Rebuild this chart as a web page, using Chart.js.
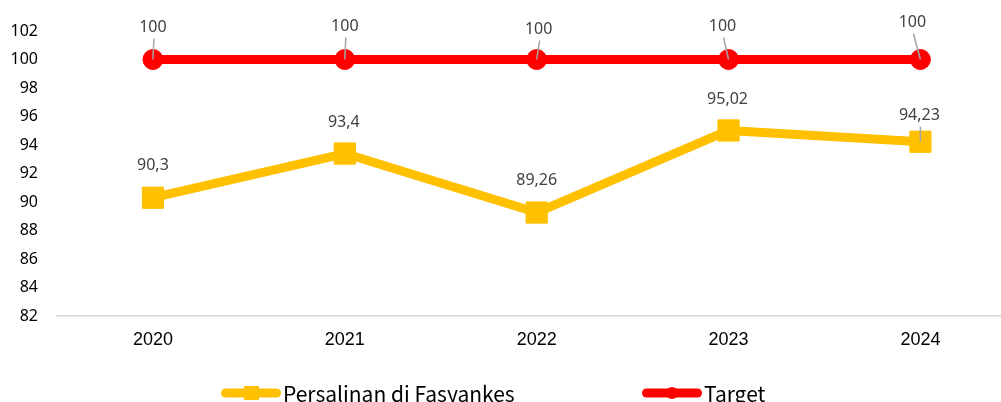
<!DOCTYPE html>
<html>
<head>
<meta charset="utf-8">
<script src="https://cdn.jsdelivr.net/npm/chart.js@4.4.1/dist/chart.umd.min.js"></script>
<style>
  html, body { margin: 0; padding: 0; background: #fff; overflow: hidden; }
  #chart { display: block; width: 1001px; height: 402px; }
</style>
</head>
<body>
<canvas id="chart" width="1001" height="402"></canvas>
<script>
const years = [2020, 2021, 2022, 2023, 2024];
const persalinan = [90.3, 93.4, 89.26, 95.02, 94.23];
const target = [100, 100, 100, 100, 100];
const yMin = 82;
const yMax = 102;
const yStep = 2;
// the picture is cut off on the right, so the x range stops short of a full half band
const xMin = 2019.5;
const xMax = 2024.42;

// label offsets from the point (dx, dy) and whether a leader line is drawn
const persalinanLabelShift = [[0, -32], [-1, -31], [0, -32], [-1, -31], [-1, -26]];
const persalinanLeader = [false, false, false, false, true];
const targetLabelShift = [[0, -32], [0, -33], [2, -30], [-6, -33], [-8, -37]];
const targetLeader = [true, true, true, true, true];

function fmt(v) {
	return String(v).replace(".", ",");
}

function toPoints(values) {
	return values.map((v, i) => ({ x: years[i], y: v }));
}

const valueLabels = {
	id: "valueLabels",
	afterDatasetsDraw(chart) {
		const ctx = chart.ctx;
		chart.data.datasets.forEach((ds, i) => {
			const meta = chart.getDatasetMeta(i);
			meta.data.forEach((pt, j) => {
				const [dx, dy] = ds.labelShift[j];
				const lx = pt.x + dx;
				const ly = pt.y + dy;
				ctx.save();
				if (ds.leader[j]) {
					ctx.strokeStyle = "#a6a6a6";
					ctx.lineWidth = 1.5;
					ctx.beginPath();
					ctx.moveTo(lx + 1, ly + 11);
					ctx.lineTo(pt.x, pt.y);
					ctx.stroke();
				}
				ctx.fillStyle = "#404040";
				ctx.font = '16px "Noto Sans"';
				ctx.textAlign = "center";
				ctx.textBaseline = "middle";
				ctx.fillText(fmt(ds.data[j].y), lx, ly);
				ctx.restore();
			});
		});
	},
};

// legend drawn under the axis, line + marker like the office-style legend
const bottomLegend = {
	id: "bottomLegend",
	afterDraw(chart) {
		const ctx = chart.ctx;
		const y = 393;
		const items = [
			{ x: 221, ds: chart.data.datasets[0] },
			{ x: 642, ds: chart.data.datasets[1] },
		];
		items.forEach((it) => {
			ctx.save();
			ctx.strokeStyle = it.ds.borderColor;
			ctx.fillStyle = it.ds.borderColor;
			ctx.lineWidth = 9;
			ctx.lineCap = "round";
			ctx.beginPath();
			ctx.moveTo(it.x + 4.5, y);
			ctx.lineTo(it.x + 55.5, y);
			ctx.stroke();
			const cx = it.x + 30;
			if (it.ds.pointStyle === "rect") {
				ctx.fillRect(cx - 7, y - 7, 15, 14);
			} else {
				ctx.beginPath();
				ctx.arc(cx, y, 6, 0, Math.PI * 2);
				ctx.fill();
			}
			ctx.fillStyle = "#000";
			ctx.font = '21px "Noto Sans CJK KR"';
			ctx.textAlign = "left";
			ctx.textBaseline = "middle";
			ctx.fillText(it.ds.label, it.x + 62, y + 1);
			ctx.restore();
		});
	},
};

const ctx = document.getElementById("chart");

new Chart(ctx, {
	type: "line",
	data: {
		datasets: [{
			label: "Persalinan di Fasyankes",
			data: toPoints(persalinan),
			borderColor: "#FFC000",
			backgroundColor: "#FFC000",
			borderWidth: 9,
			borderJoinStyle: "round",
			tension: 0,
			pointStyle: "rect",
			pointRadius: 15,
			pointHoverRadius: 15,
			pointBorderWidth: 1,
			labelShift: persalinanLabelShift,
			leader: persalinanLeader,
		}, {
			label: "Target",
			data: toPoints(target),
			borderColor: "#FF0000",
			backgroundColor: "#FF0000",
			borderWidth: 9,
			borderJoinStyle: "round",
			tension: 0,
			pointStyle: "circle",
			pointRadius: 10,
			pointHoverRadius: 10,
			pointBorderWidth: 1,
			labelShift: targetLabelShift,
			leader: targetLeader,
		}, ],
	},
	options: {
		responsive: false,
		maintainAspectRatio: false,
		animation: false,
		layout: {
			autoPadding: false,
			padding: { top: 31, right: 0, bottom: 46, left: 0 },
		},
		plugins: {
			legend: { display: false },
			tooltip: { enabled: false },
		},
		scales: {
			x: {
				type: "linear",
				min: xMin,
				max: xMax,
				grid: { display: false, drawTicks: false },
				border: { display: true, color: "#d9d9d9", width: 1.5 },
				afterBuildTicks(scale) {
					scale.ticks = years.map((v) => ({ value: v }));
				},
				ticks: {
					autoSkip: false,
					maxRotation: 0,
					color: "#000",
					padding: 13,
					font: { family: "Liberation Sans", size: 18 },
					callback: (v) => String(v),
				},
				afterFit(scale) { scale.height = 40; },
			},
			y: {
				min: yMin,
				max: yMax,
				grid: { display: false, drawTicks: false },
				border: { display: false },
				ticks: {
					stepSize: yStep,
					color: "#000",
					padding: 19,
					font: { family: "Noto Sans", size: 16 },
				},
				afterFit(scale) { scale.width = 57; },
			},
		},
	},
	plugins: [valueLabels, bottomLegend],
});
</script>
</body>
</html>
